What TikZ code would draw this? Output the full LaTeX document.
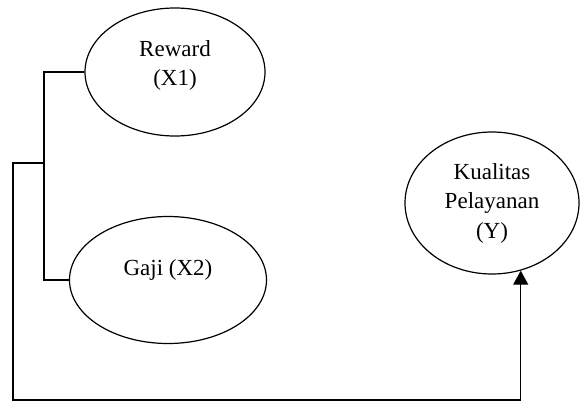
\documentclass[tikz,border=0pt]{standalone}
\usepackage{fontspec}
\setmainfont{Liberation Serif}
\usetikzlibrary{shapes.geometric,arrows.meta}
\begin{document}
\begin{tikzpicture}[x=1pt, y=-1pt, >={Triangle[length=14pt,width=15pt]},
    oval/.style={ellipse, draw, line width=1.2pt, align=center, inner sep=0pt,
      font=\fontsize{23}{29.5}\selectfont},
    link/.style={line width=1.2pt}]
\useasboundingbox (0,0) rectangle (580,402);
\node[oval, minimum width=180, minimum height=128, text depth=18pt] (rew) at (175,72) {Reward\\(X1)};
\node[oval, minimum width=197, minimum height=127, text depth=25pt] (gaji) at (168,280) {Gaji (X2)};
\node[oval, minimum width=174, minimum height=142] (kual) at (492,203) {Kualitas\\Pelayanan\\(Y)};
\coordinate (split) at (44,163);
\coordinate (lo) at (13,400);
\draw[link] (rew.west) -| (split) |- (gaji.west);
\draw[link,->] (split) -| (lo) -| (kual.-67);
\end{tikzpicture}
\end{document}
